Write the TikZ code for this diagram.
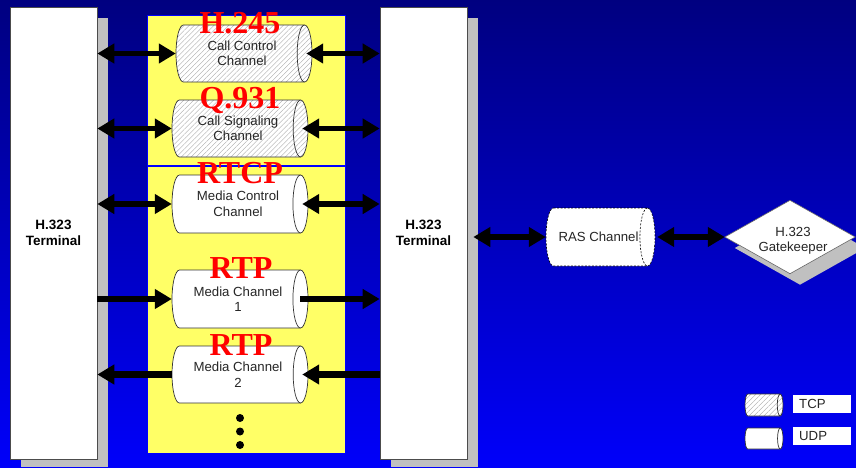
\documentclass[tikz,border=0pt]{standalone}
\usepackage{fontspec}
\setmainfont{Liberation Sans}
\newfontfamily\tnr{Liberation Serif}
\usetikzlibrary{shapes.geometric,arrows.meta,patterns.meta}
\definecolor{bgtop}{RGB}{0,0,128}
\definecolor{bgbot}{RGB}{0,0,250}
\definecolor{shadowgray}{RGB}{192,192,192}
\definecolor{ylw}{RGB}{255,255,102}
\definecolor{lineblue}{RGB}{0,0,255}
\newcommand\mycyl[7]{%
  \pgfmathsetmacro\cylry{(#5-#3)/2}%
  \pgfmathsetmacro\cylyc{(#5+#3)/2}%
  \pgfmathsetmacro\cylrx{0.13*(#5-#3)}%
  \path[#6] (#2+\cylrx,#3) -- (#4-\cylrx,#3)
    arc[start angle=-90,end angle=90,x radius=\cylrx,y radius=\cylry]
    -- (#2+\cylrx,#5)
    arc[start angle=90,end angle=270,x radius=\cylrx,y radius=\cylry] -- cycle;
  \path[#6front] (#4-\cylrx,#3)
    arc[start angle=270,end angle=90,x radius=\cylrx,y radius=\cylry];
  \node[cyltext, minimum width=#4-#2, minimum height=#5-#3] (#1) at ({(#2+#4)/2-2},\cylyc) {#7};
}
\begin{document}
\begin{tikzpicture}[x=1pt,y=-1pt, font=\fontsize{13.2}{15.5}\selectfont,
  term/.style={draw=black!70, fill=white, line width=0.6pt, inner sep=0, font=\fontsize{13.5}{15.5}\selectfont\bfseries, align=center},
  hatch/.style={draw=black!80, line width=0.7pt, preaction={fill=white}, pattern={Lines[angle=45,distance=3.5pt,line width=0.35pt]}, pattern color=black!35},
  hatchfront/.style={draw=black!80, line width=0.7pt},
  plain/.style={draw=black!80, line width=0.7pt, fill=white},
  plainfront/.style={draw=black!80, line width=0.7pt},
  dashcyl/.style={draw=black, dash pattern=on 2pt off 1.5pt, line width=0.6pt, fill=white},
  dashcylfront/.style={draw=black, dash pattern=on 2pt off 1.5pt, line width=0.6pt},
  cyltext/.style={inner sep=0, align=center, text=black!85},
  proto/.style={font=\fontsize{32}{32}\selectfont\tnr\bfseries, text=red, inner sep=0, anchor=base},
  dbl/.style={line width=5.5pt, {Triangle[length=17pt,width=19pt]}-{Triangle[length=17pt,width=19pt]}},
  sgl/.style={line width=6.5pt, -{Triangle[length=17pt,width=19pt]}},
  dot/.style={circle, fill=black, inner sep=0, minimum size=8},
  legbox/.style={fill=white, inner sep=0, minimum width=58, minimum height=18, text=black!85},
]
\useasboundingbox (0,0) rectangle (856,467);
\shade[top color=bgtop, bottom color=bgbot] (0,0) rectangle (856,467);

% yellow column
\fill[ylw] (147,15) rectangle (345,453);
\draw[lineblue, line width=0.8pt] (147,15) rectangle (345,453);
\draw[lineblue, line width=2pt] (147,166) -- (345,166);

% terminals
\fill[shadowgray] (21,18) rectangle (108,467);
\fill[shadowgray] (391,18) rectangle (478,467);
\node[term, minimum width=87, minimum height=452] (lt) at (53.5,233) {H.323\\Terminal};
\node[term, minimum width=87, minimum height=452] (rt) at (423.5,233) {H.323\\Terminal};

% channels
\mycyl{cc}{176}{25}{312}{82}{hatch}{Call Control\\Channel}
\mycyl{cs}{172}{100}{308}{157}{hatch}{Call Signaling\\Channel}
\mycyl{mc}{172}{175}{308}{233}{plain}{Media Control\\Channel}
\mycyl{ma}{172}{270}{308}{328}{plain}{Media Channel\\1}
\mycyl{mb}{172}{346}{308}{403}{plain}{Media Channel\\2}
\mycyl{ras}{546}{208}{655}{266}{dashcyl}{RAS Channel}

\node[dot] (d1) at (240,418) {};
\node[dot] (d2) at (240,431.5) {};
\node[dot] (d3) at (240,445) {};

% gatekeeper
\node[inner sep=0, minimum width=130, minimum height=73, align=center, text=black!85] (gk) at (790,237) {};
\fill[shadowgray] ([shift={(10,11)}]gk.west) -- ([shift={(10,11)}]gk.north) -- ([shift={(10,11)}]gk.east) -- ([shift={(10,11)}]gk.south) -- cycle;
\draw[fill=white, draw=black!60, line width=0.6pt] (gk.west) -- (gk.north) -- (gk.east) -- (gk.south) -- cycle;
\node[align=center, inner sep=0, text=black!85] (gkt) at (793,241) {H.323\\Gatekeeper};

% arrows left
\draw[dbl] (lt.east |- cc.west) -- ([xshift=2]cc.west);
\draw[dbl] (lt.east |- cs.west) -- ([xshift=2]cs.west);
\draw[dbl] (lt.east |- mc.west) -- ([xshift=2]mc.west);
\draw[sgl] (lt.east |- ma.west) -- ([xshift=2]ma.west);
\draw[sgl] ([xshift=2]mb.west) -- (lt.east |- mb.west);
% arrows right
\draw[dbl] ([xshift=-4]cc.east) -- (rt.west |- cc.east);
\draw[dbl] ([xshift=-4]cs.east) -- (rt.west |- cs.east);
\draw[dbl] ([xshift=-4]mc.east) -- (rt.west |- mc.east);
\draw[sgl] ([xshift=-6]ma.east) -- (rt.west |- ma.east);
\draw[sgl] (rt.west |- mb.east) -- ([xshift=-4]mb.east);
\draw[dbl] ([xshift=6]rt.east |- ras.west) -- ([xshift=2]ras.west);
\draw[dbl] ([xshift=4]ras.east) -- (gk.west);

% protocol labels
\node[proto] (l1) at (240,33) {H.245};
\node[proto] (l2) at (240,108) {Q.931};
\node[proto] (l3) at (240,183) {RTCP};
\node[proto] (l4) at (241,278) {RTP};
\node[proto] (l5) at (241,355) {RTP};

% legend
\mycyl{tcpc}{745}{394}{783}{416}{hatch}{}
\mycyl{udpc}{745}{428}{783}{449}{plain}{}
\node[legbox] (tcpl) at (822,404) {};
\node[legbox] (udpl) at (822,436) {};
\node[anchor=west, inner sep=0, text=black!85] (tcpt) at (799,404) {TCP};
\node[anchor=west, inner sep=0, text=black!85] (udpt) at (799,436) {UDP};
\end{tikzpicture}
\end{document}
